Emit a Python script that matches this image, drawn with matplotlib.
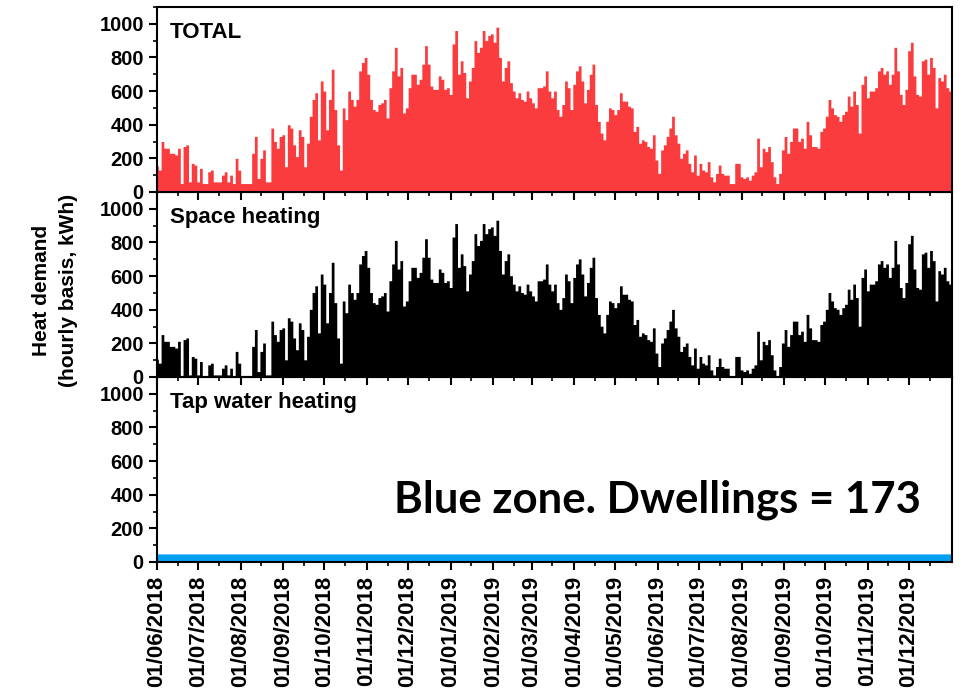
import pandas as pd
import matplotlib.pyplot as plt
import matplotlib.dates as mdates
from matplotlib.ticker import MultipleLocator

# TOTAL heat demand envelope, read every 2 days from 01/06/2018 (kWh)
total_2018a = [154, 130, 300, 260, 260, 230, 230, 220, 260, 50,
               270, 280, 60, 170, 160, 60, 140, 50, 50, 120,
               130, 60, 60, 60, 100, 120, 60, 100, 50, 200,
               130, 50, 50, 50, 50, 230, 330, 80, 200, 250,
               60, 60, 380, 300, 260, 330, 340, 150, 400, 380,
               280, 210, 370, 330, 150, 290, 450, 550, 590, 310,
               660, 600, 370, 550, 730, 490, 280, 130, 500, 430,
               600, 550, 510]
total_winter = [550, 720, 770, 800, 700, 550, 490, 480, 520, 530,
                550, 440, 620, 720, 860, 690, 740, 470, 500, 620,
                700, 700, 640, 670, 760, 870, 760, 630, 610, 610,
                690, 670, 610, 620, 580, 880, 960, 700, 780, 710,
                560, 660, 740, 900, 830, 860, 960, 900, 930, 940,
                890, 980, 800, 660, 740, 780, 650, 600, 560, 590,
                550, 540, 600, 560, 530, 500, 620, 620, 630, 720,
                600, 560, 600]
total_2019a = [490, 450, 520, 660, 620, 490, 640, 720, 750, 660,
               530, 610, 700, 760, 520, 420, 350, 310, 420, 500,
               490, 460, 490, 590, 540, 540, 510, 500, 360, 390,
               290, 310, 300, 270, 260, 340, 190, 110, 250, 280,
               330, 380, 450, 340, 290, 200, 230, 250, 170, 120,
               220, 100, 170, 130, 120, 180, 90, 60, 110, 160,
               110, 100, 100, 50, 50, 170, 170, 90, 80, 90,
               70, 100, 120]
total_2019b = [320, 150, 260, 240, 270, 180, 90, 50, 110, 250,
               330, 230, 300, 380, 380, 300, 320, 260, 420, 340,
               270, 270, 260, 360, 380, 450, 550, 500, 460, 450,
               420, 460, 480, 570, 510, 600, 520, 350, 640, 690,
               560, 600, 600, 620, 720, 740, 700, 720, 640, 700,
               860, 720, 580, 520, 610, 840, 890, 690, 580, 570,
               780, 790, 700, 800, 740, 500, 680, 660, 700, 620,
               600, 580]
total = total_2018a + total_winter + total_2019a + total_2019b

# tap water heating, monthly level (kWh), Jun 2018 .. Jan 2020
tap_monthly = [48, 48, 48, 48, 48, 48, 48, 48, 48, 48,
               48, 48, 48, 48, 48, 48, 48, 48, 48, 48]

dates = pd.date_range("2018-06-01", periods=len(total), freq="2D")
month_idx = (dates.year - 2018) * 12 + dates.month - 6
tap = [tap_monthly[i] for i in month_idx]
space = [max(t - w, 0) for t, w in zip(total, tap)]

plt.rcParams['font.family'] = ['Liberation Sans', 'DejaVu Sans']
plt.rcParams['font.weight'] = 'bold'

fig = plt.figure(figsize=(9.66, 6.95), dpi=100)
left, width, h = 0.1625, 0.8225, 0.2662
bottoms = [0.1914 + 2 * h, 0.1914 + h, 0.1914]
axes = [fig.add_axes([left, b, width, h]) for b in bottoms]

series = [(total, '#FB3C3F', 'TOTAL'),
          (space, 'black', 'Space heating'),
          (tap, '#00A0F0', 'Tap water heating')]

for i, (ax, (vals, col, name)) in enumerate(zip(axes, series)):
    if name == 'Tap water heating':
        ax.fill_between(dates, 0, vals, color=col, linewidth=0, step='post')
    else:
        ax.fill_between(dates, 0, vals, color=col, linewidth=0, step='mid')
    ax.set_xlim(pd.Timestamp("2018-06-01"), pd.Timestamp("2019-12-31 23:00"))
    ax.set_ylim(0, 1100)
    ax.set_yticks(range(0, 1001, 200))
    ax.yaxis.set_minor_locator(MultipleLocator(100))
    ax.xaxis.set_major_locator(mdates.MonthLocator(bymonthday=1))
    ax.xaxis.set_minor_locator(mdates.MonthLocator(bymonthday=16))
    ax.xaxis.set_major_formatter(mdates.DateFormatter('%d/%m/%Y'))
    ax.tick_params(which='major', direction='out', length=6, width=1.5,
                   labelsize=14.5, top=False, right=False)
    ax.tick_params(which='minor', direction='out', length=3, width=1.2,
                   top=False, right=False)
    for s in ax.spines.values():
        s.set_linewidth(1.5)
    ax.text(0.016, 0.86, name, transform=ax.transAxes, fontsize=16,
            fontweight='bold', va='center', ha='left')
    ax.set_zorder(3 - i)
    ax.patch.set_alpha(0)

for ax in axes[:2]:
    ax.tick_params(axis='x', labelbottom=False)

axes[2].tick_params(axis='x', labelsize=16, labelrotation=90, pad=4)
axes[1].set_ylabel("Heat demand\n(hourly basis, kWh)", fontsize=15,
                   fontweight='bold', linespacing=1.5)
axes[1].yaxis.set_label_coords(-0.10, 0.47)

axes[2].text(0.962, 0.335, "Blue zone. Dwellings = 173", transform=axes[2].transAxes,
             fontsize=31.5, fontweight='bold', family=['Lato', 'DejaVu Sans'],
             ha='right', va='center')

fig.savefig("out.png", dpi=100)
